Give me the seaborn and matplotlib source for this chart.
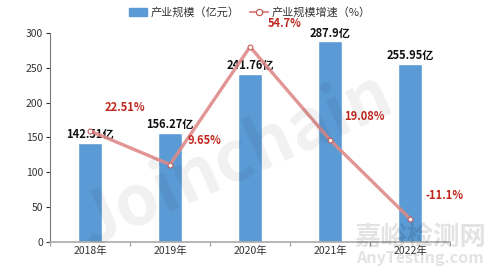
import numpy as np
import pandas as pd
import matplotlib
matplotlib.use("Agg")
import matplotlib.pyplot as plt
import seaborn as sns
from matplotlib.lines import Line2D
from matplotlib.patches import Patch

years = ["2018年", "2019年", "2020年", "2021年", "2022年"]
scale = [142.51, 156.27, 241.76, 287.9, 255.95]
scale_labels = ["142.51亿", "156.27亿", "241.76亿", "287.9亿", "255.95亿"]
growth = [22.51, 9.65, 54.7, 19.08, -11.1]
growth_labels = ["22.51%", "9.65%", "54.7%", "19.08%", "-11.1%"]
y_ticks = [0, 50, 100, 150, 200, 250, 300]

sns.set_style("white")
plt.rcParams['font.family'] = ['Noto Sans CJK SC', 'DejaVu Sans']

BAR = "#5b9bd5"
LINE = "#de8a88"
RED = "#c0281e"
TXT = "#333333"

fig = plt.figure(figsize=(5.0, 2.77), dpi=100)
ax = fig.add_axes([0.10, 0.1264, 0.80, 0.7545])

df = pd.DataFrame({"year": years, "scale": scale})
sns.barplot(data=df, x="year", y="scale", color=BAR, width=0.3, ax=ax,
            saturation=1, zorder=2)
ax.set_xlim(-0.5, len(years) - 0.5)
ax.set_ylim(0, 300)
ax.set_yticks(y_ticks)
ax.set_xlabel("")
ax.set_ylabel("")
ax.tick_params(axis="y", labelsize=7.5, colors=TXT, length=3, width=0.8,
               direction="out", left=True, pad=2)
ax.tick_params(axis="x", labelsize=7.5, colors=TXT, length=0, pad=3)
ax.set_xticks(np.arange(len(years)), years)
ax.set_xticks(np.arange(len(years) + 1) - 0.5, minor=True)
ax.tick_params(axis="x", which="minor", length=3, width=0.8, color="#999999",
               bottom=True, direction="out")
for s in ["top", "right"]:
    ax.spines[s].set_visible(False)
ax.spines["left"].set_color("#777777")
ax.spines["left"].set_linewidth(0.8)
ax.spines["bottom"].set_color("#aaaaaa")
ax.spines["bottom"].set_linewidth(1.2)
ax.grid(False)

for i, (v, lab) in enumerate(zip(scale, scale_labels)):
    ax.annotate(lab, (i, v), xytext=(0, 6), textcoords="offset points",
                ha="center", va="center", fontsize=8, fontweight="bold",
                color="#111111", zorder=5)

ax2 = ax.twinx()
ax2.set_ylim(-20, 60)
x = np.arange(len(years))
sns.lineplot(x=x, y=growth, ax=ax2, color=LINE, linewidth=2.4, alpha=0.9,
             marker="o", markersize=3.5, markerfacecolor="white",
             markeredgecolor="#c0504d", markeredgewidth=0.8, zorder=4)
ax2.set_yticks([])
ax2.set_ylabel("")
for s in ["top", "right", "left", "bottom"]:
    ax2.spines[s].set_visible(False)
for i, (g, lab) in enumerate(zip(growth, growth_labels)):
    ax2.annotate(lab, (i, g), xytext=(25, 17), textcoords="offset points",
                 ha="center", va="center", fontsize=8, fontweight="bold",
                 color=RED, zorder=6)

# watermarks
fig.text(0.47, 0.42, "Joinchain", fontsize=50, fontweight="bold",
         color="#000000", alpha=0.06, rotation=24, ha="center", va="center",
         zorder=0)
fig.text(0.84, 0.145, "嘉峪检测网", fontsize=19, fontweight="bold",
         color="#000000", alpha=0.11, ha="center", va="center")
fig.text(0.84, 0.068, "AnyTesting.com", fontsize=11.5, fontstyle="italic",
         fontweight="bold", color="#000000", alpha=0.11, ha="center",
         va="center")

handles = [Patch(facecolor=BAR, edgecolor=BAR),
           Line2D([0], [0], color=LINE, linewidth=1.5, marker="o",
                  markersize=4.5, markerfacecolor="white",
                  markeredgecolor="#c0504d", markeredgewidth=0.8)]
fig.legend(handles, ["产业规模（亿元）", "产业规模增速（%）"], loc="upper center",
           bbox_to_anchor=(0.5, 1.01), ncol=2, frameon=False, fontsize=8,
           handlelength=1.6, handleheight=0.8, columnspacing=1.0,
           handletextpad=0.3, labelcolor=TXT)

fig.savefig("out.png", dpi=100)
